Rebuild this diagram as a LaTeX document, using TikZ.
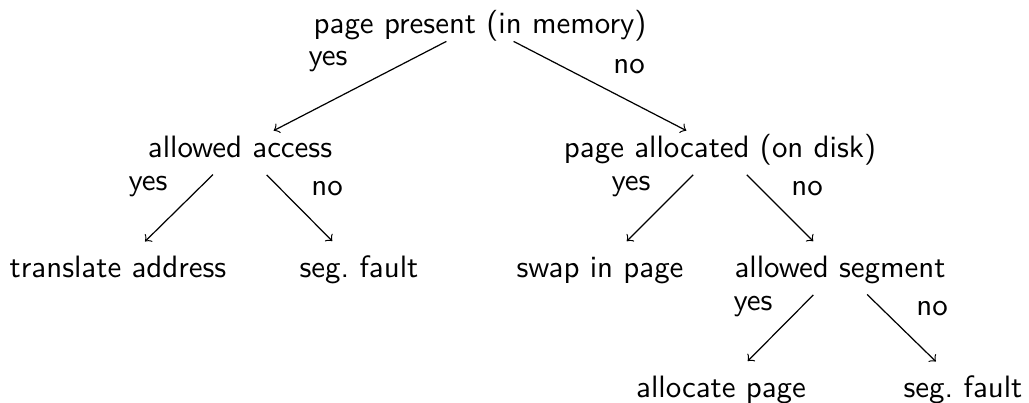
\documentclass[tikz,border=0pt]{standalone}
\begin{document}
\begin{tikzpicture}[x=0.33pt, y=-0.33pt,
  every node/.style={font=\fontsize{10.2pt}{12pt}\sffamily, inner sep=0pt},
  dec/.style={text height=8pt, text depth=2pt},
  lbl/.style={anchor=base},
  branch/.style={->, shorten <=12.5pt, shorten >=12.5pt}]
\useasboundingbox (0,0) rectangle (1029,402);

% decision tree nodes
\node[dec] (root) at (480,24)  {page present (in memory)};
\node[dec] (acc)  at (240,148) {allowed access};
\node[dec] (disk) at (720,148) {page allocated (on disk)};
\node[dec] (tra)  at (118,268) {translate address};
\node[dec] (sf1)  at (359,268) {seg.\ fault};
\node[dec] (swap) at (600,268) {swap in page};
\node[dec] (seg)  at (840,268) {allowed segment};
\node[dec] (alo)  at (721,388) {allocate page};
\node[dec] (sf2)  at (963,388) {seg.\ fault};

% branches
\draw[branch] (root.center) -- (acc.center);
\draw[branch] (root.center) -- (disk.center);
\draw[branch] (acc.center)  -- (tra.center);
\draw[branch] (acc.center)  -- (sf1.center);
\draw[branch] (disk.center) -- (swap.center);
\draw[branch] (disk.center) -- (seg.center);
\draw[branch] (seg.center)  -- (alo.center);
\draw[branch] (seg.center)  -- (sf2.center);

% branch labels
\node[lbl] (y1) at (328,65)  {yes};
\node[lbl] (n1) at (629,73)  {no};
\node[lbl] (y2) at (148,190) {yes};
\node[lbl] (n2) at (327,195) {no};
\node[lbl] (y3) at (631,190) {yes};
\node[lbl] (n3) at (807,195) {no};
\node[lbl] (y4) at (753,310) {yes};
\node[lbl] (n4) at (932,315) {no};
\end{tikzpicture}
\end{document}
